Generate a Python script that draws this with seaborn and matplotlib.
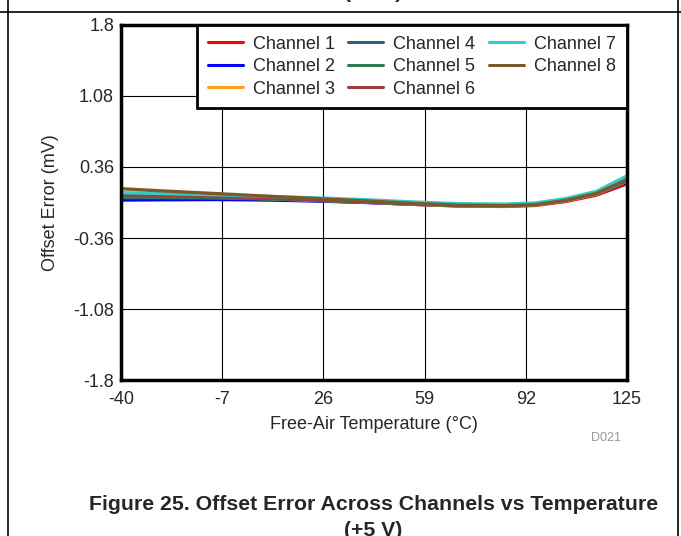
import numpy as np
import pandas as pd
import seaborn as sns
import matplotlib.pyplot as plt
from matplotlib.lines import Line2D

# Dados (temperatura em °C, offset em mV)
temperatura = [-40, -25, -10, 0, 10, 25, 40, 55, 70, 85, 95, 105, 115, 125]

canal_1 = [0.060, 0.055, 0.048, 0.040, 0.032, 0.018, 0.002, -0.018, -0.035, -0.040, -0.030, 0.010, 0.075, 0.190]
canal_2 = [0.025, 0.028, 0.030, 0.028, 0.024, 0.014, 0.000, -0.018, -0.033, -0.036, -0.025, 0.018, 0.085, 0.205]
canal_3 = [0.070, 0.062, 0.053, 0.045, 0.036, 0.020, 0.004, -0.017, -0.034, -0.037, -0.026, 0.017, 0.085, 0.215]
canal_4 = [0.090, 0.078, 0.066, 0.056, 0.046, 0.030, 0.013, -0.008, -0.025, -0.028, -0.015, 0.030, 0.100, 0.240]
canal_5 = [0.050, 0.049, 0.046, 0.041, 0.035, 0.021, 0.005, -0.015, -0.031, -0.034, -0.022, 0.022, 0.092, 0.220]
canal_6 = [0.080, 0.071, 0.061, 0.052, 0.043, 0.027, 0.010, -0.010, -0.027, -0.030, -0.017, 0.028, 0.100, 0.245]
canal_7 = [0.100, 0.090, 0.079, 0.070, 0.060, 0.045, 0.028, 0.006, -0.012, -0.016, -0.005, 0.040, 0.112, 0.270]
canal_8 = [0.140, 0.115, 0.092, 0.076, 0.060, 0.038, 0.016, -0.008, -0.027, -0.032, -0.022, 0.022, 0.092, 0.230]

canais = ['Channel 1', 'Channel 2', 'Channel 3', 'Channel 4',
          'Channel 5', 'Channel 6', 'Channel 7', 'Channel 8']
valores = [canal_1, canal_2, canal_3, canal_4, canal_5, canal_6, canal_7, canal_8]
cores = ['#FF0000', '#0000FF', '#FF9E1B', '#2F5F7A',
         '#2E7A55', '#A03C3C', '#33CCCC', '#7A5A2A']

xticks = [-40, -7, 26, 59, 92, 125]
yticks = [-1.8, -1.08, -0.36, 0.36, 1.08, 1.8]
ytick_labels = ['-1.8', '-1.08', '-0.36', '0.36', '1.08', '1.8']

# Tabela longa para o seaborn
df = pd.DataFrame({
    'temp': temperatura * len(canais),
    'offset': np.concatenate(valores),
    'canal': np.repeat(canais, len(temperatura)),
})

sns.set_style('white')
plt.rcParams['font.family'] = ['Liberation Sans', 'DejaVu Sans']

fig = plt.figure(figsize=(6.81, 5.36), dpi=100)
ax = fig.add_axes([0.1777, 0.291, 0.743, 0.6624])

sns.lineplot(data=df, x='temp', y='offset', hue='canal', palette=cores,
             linewidth=2.4, ax=ax, legend=False, sort=True)

fs = 13
ax.set_xlim(-40, 125)
ax.set_ylim(-1.8, 1.8)
ax.set_xticks(xticks)
ax.set_xticklabels([str(t) for t in xticks], fontsize=fs)
ax.set_yticks(yticks)
ax.set_yticklabels(ytick_labels, fontsize=fs)
ax.grid(True, color='black', linewidth=0.8)
ax.set_axisbelow(True)
for s in ax.spines.values():
    s.set_linewidth(2.5)
    s.set_color('black')
ax.tick_params(axis='x', length=0, pad=8)
ax.tick_params(axis='y', length=0, pad=5)
ax.set_xlabel('Free-Air Temperature (°C)', fontsize=fs, labelpad=6)
ax.set_ylabel('Offset Error (mV)', fontsize=fs, labelpad=10)

handles = [Line2D([0], [0], color=c, linewidth=2.2) for c in cores]
leg = ax.legend(handles, canais, ncol=3, loc='upper right', fontsize=fs,
                frameon=True, fancybox=False, framealpha=1, borderaxespad=0,
                handlelength=1.95, handletextpad=0.55, columnspacing=0.75,
                labelspacing=0.3, borderpad=0.6)
leg.get_frame().set_edgecolor('black')
leg.get_frame().set_linewidth(2)

fig.text(0.912, 0.183, 'D021', fontsize=9, color='#999999', ha='right', va='center')

fig.text(0.548, 0.058, 'Figure 25. Offset Error Across Channels vs Temperature',
         fontsize=15.3, fontweight='bold', ha='center', va='center')
fig.text(0.548, 0.01, '(+5 V)', fontsize=15.3, fontweight='bold', ha='center', va='center')
fig.text(0.548, 1.014, '(+5 V)', fontsize=15.3, fontweight='bold', ha='center', va='center')

# Bordas da página
fig.add_artist(Line2D([0, 1], [0.978, 0.978], color='black', linewidth=1.2))
fig.add_artist(Line2D([0.012, 0.012], [0, 1], color='black', linewidth=1.2))
fig.add_artist(Line2D([0.996, 0.996], [0, 1], color='black', linewidth=1.2))

fig.savefig('out.png', dpi=100)
